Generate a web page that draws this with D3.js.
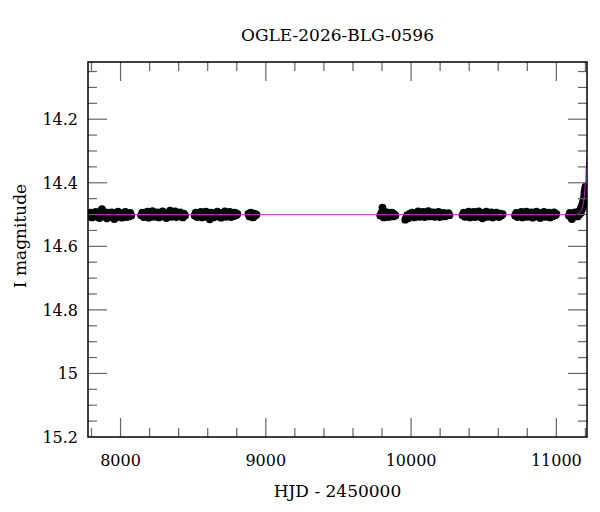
<!DOCTYPE html>
<html>
<head>
<meta charset="utf-8">
<script src="https://cdn.jsdelivr.net/npm/d3@7"></script>
<style>
  body { margin: 0; background: #fff; }
  text { font-family: "DejaVu Serif", "Liberation Serif", serif; fill: #000; }
</style>
</head>
<body>
<div id="chart"></div>
<script>
// light curve data (HJD - 2450000, I mag)
var season1 = [[7786,14.503],[7795,14.494],[7803,14.509],[7812,14.498],[7820,14.505],[7829,14.492],[7838,14.507],[7846,14.500],[7855,14.511],[7863,14.495],[7872,14.483],[7880,14.489],[7889,14.506],[7897,14.498],[7906,14.512],[7914,14.494],[7923,14.501],[7931,14.508],[7940,14.493],[7948,14.503],[7957,14.514],[7965,14.497],[7974,14.505],[7982,14.491],[7991,14.507],[7999,14.499],[8008,14.510],[8016,14.496],[8025,14.503],[8033,14.492],[8042,14.508],[8050,14.500],[8059,14.506],[8067,14.495],[8074,14.503]];
var season2 = [[8142,14.502],[8150,14.494],[8159,14.508],[8168,14.497],[8176,14.505],[8185,14.491],[8194,14.510],[8202,14.499],[8211,14.504],[8220,14.489],[8228,14.507],[8237,14.496],[8246,14.502],[8254,14.493],[8263,14.509],[8272,14.498],[8280,14.505],[8289,14.490],[8298,14.506],[8306,14.499],[8315,14.511],[8324,14.495],[8332,14.503],[8341,14.488],[8350,14.507],[8358,14.497],[8367,14.503],[8376,14.490],[8384,14.508],[8393,14.499],[8402,14.505],[8410,14.493],[8419,14.501],[8428,14.509],[8436,14.497],[8444,14.503]];
var season3 = [[8510,14.503],[8518,14.494],[8527,14.508],[8536,14.497],[8544,14.505],[8553,14.492],[8562,14.509],[8570,14.499],[8579,14.504],[8588,14.491],[8596,14.507],[8605,14.498],[8614,14.515],[8622,14.494],[8631,14.502],[8640,14.509],[8648,14.496],[8657,14.503],[8666,14.491],[8674,14.506],[8683,14.498],[8692,14.510],[8700,14.495],[8709,14.503],[8718,14.490],[8726,14.507],[8735,14.497],[8744,14.504],[8752,14.492],[8761,14.508],[8770,14.499],[8778,14.505],[8787,14.494],[8796,14.502],[8804,14.498]];
var season4 = [[8880,14.498],[8888,14.506],[8896,14.494],[8904,14.503],[8912,14.509],[8920,14.497],[8928,14.503],[8936,14.500]];
var season5 = [[9788,14.503],[9796,14.495],[9803,14.478],[9806,14.487],[9812,14.509],[9820,14.499],[9828,14.505],[9836,14.493],[9844,14.508],[9852,14.498],[9860,14.504],[9868,14.494],[9876,14.506],[9884,14.499],[9892,14.503]];
var season6 = [[9960,14.516],[9966,14.511],[9972,14.503],[9980,14.512],[9989,14.498],[9997,14.506],[10006,14.494],[10015,14.503],[10023,14.509],[10032,14.496],[10041,14.502],[10049,14.490],[10058,14.507],[10067,14.499],[10075,14.504],[10084,14.492],[10093,14.508],[10101,14.497],[10110,14.503],[10119,14.489],[10127,14.506],[10136,14.498],[10145,14.505],[10153,14.493],[10162,14.507],[10171,14.499],[10179,14.504],[10188,14.492],[10197,14.508],[10205,14.497],[10214,14.503],[10223,14.495],[10231,14.506],[10240,14.499],[10248,14.503],[10257,14.496],[10264,14.502]];
var season7 = [[10354,14.502],[10362,14.494],[10371,14.507],[10380,14.498],[10388,14.504],[10397,14.491],[10406,14.509],[10414,14.498],[10423,14.505],[10432,14.492],[10440,14.508],[10449,14.497],[10458,14.503],[10466,14.490],[10475,14.507],[10484,14.499],[10492,14.512],[10501,14.495],[10510,14.503],[10518,14.491],[10527,14.507],[10536,14.498],[10544,14.504],[10553,14.493],[10562,14.509],[10570,14.499],[10579,14.505],[10588,14.494],[10596,14.502],[10605,14.508],[10614,14.497],[10622,14.503],[10630,14.499]];
var season8 = [[10716,14.503],[10724,14.495],[10733,14.508],[10742,14.498],[10750,14.505],[10759,14.492],[10768,14.509],[10776,14.499],[10785,14.504],[10794,14.491],[10802,14.507],[10811,14.498],[10820,14.503],[10828,14.493],[10837,14.510],[10846,14.497],[10854,14.504],[10863,14.491],[10872,14.506],[10880,14.499],[10889,14.511],[10898,14.495],[10906,14.503],[10915,14.492],[10924,14.507],[10932,14.498],[10941,14.504],[10950,14.494],[10958,14.509],[10967,14.499],[10976,14.505],[10984,14.493],[10993,14.502],[11000,14.498]];
var season9 = [[11086,14.503],[11093,14.495],[11100,14.508],[11107,14.514],[11114,14.499],[11121,14.506],[11128,14.493],[11135,14.503],[11141,14.497],[11147,14.506],[11153,14.492],[11158,14.500],[11163,14.486],[11168,14.495],[11172,14.476],[11176,14.484],[11180,14.466],[11183,14.476],[11186,14.455],[11189,14.466],[11191,14.443],[11193,14.430],[11195,14.452],[11197,14.421],[11199,14.438],[11201,14.412],[11203,14.425],[11205,14.415]];
var seasons = [season1, season2, season3, season4, season5, season6, season7, season8, season9];

// point-lens model curve
var model = [[7776,14.5],[11120,14.5],[11140,14.499],[11155,14.496],[11168,14.49],[11178,14.48],[11186,14.465],[11192,14.445],[11197,14.42],[11201,14.39],[11205,14.36],[11208,14.335],[11209.5,14.322]];

var title = "OGLE-2026-BLG-0596";
var xLabel = "HJD - 2450000";
var yLabel = "I magnitude";
var xMajor = [8000, 9000, 10000, 11000];
var yMajor = [14.2, 14.4, 14.6, 14.8, 15, 15.2];

var margin = {top: 62, right: 13, bottom: 75, left: 88};
var W = 600, H = 512;
var width = W - margin.left - margin.right;
var height = H - margin.top - margin.bottom;

var svg = d3.select("#chart")
  .append("svg")
    .attr("width", W)
    .attr("height", H);

var g = svg.append("g")
    .attr("transform", "translate(" + margin.left + "," + margin.top + ")");

var x = d3.scaleLinear().domain([7776, 11211]).range([0, width]);
var y = d3.scaleLinear().domain([14.02, 15.2]).range([0, height]);

g.append("clipPath").attr("id", "plotclip")
  .append("rect").attr("width", width).attr("height", height);

// data points
var pts = g.append("g").attr("clip-path", "url(#plotclip)");
pts.selectAll("circle")
  .data(seasons.flat())
  .enter()
  .append("circle")
    .attr("cx", function (d) { return x(d[0]); })
    .attr("cy", function (d) { return y(d[1]); })
    .attr("r", 3.9)
    .style("fill", "#000");

// model on top
var line = d3.line()
  .x(function (d) { return x(d[0]); })
  .y(function (d) { return y(d[1]); });

pts.append("path")
  .datum(model)
  .attr("d", line)
  .attr("fill", "none")
  .attr("stroke", "#e020e0")
  .attr("stroke-width", 0.9);

// ticks on all four sides, pointing inwards
var xMinor = d3.range(7800, 11201, 200);
var yMinor = d3.range(14.05, 15.2, 0.05);
var majLen = 19, minLen = 9;
var ticks = g.append("g").attr("stroke", "#666").attr("stroke-width", 1.2);

xMinor.forEach(function (v) {
  var len = (v % 1000 === 0) ? majLen : minLen;
  ticks.append("line").attr("x1", x(v)).attr("x2", x(v)).attr("y1", height).attr("y2", height - len);
  ticks.append("line").attr("x1", x(v)).attr("x2", x(v)).attr("y1", 0).attr("y2", len);
});
yMinor.forEach(function (v) {
  var isMaj = yMajor.some(function (m) { return Math.abs(m - v) < 1e-6; });
  var len = isMaj ? majLen : minLen;
  ticks.append("line").attr("y1", y(v)).attr("y2", y(v)).attr("x1", 0).attr("x2", len);
  ticks.append("line").attr("y1", y(v)).attr("y2", y(v)).attr("x1", width).attr("x2", width - len);
});

// frame
g.append("rect")
  .attr("width", width)
  .attr("height", height)
  .attr("fill", "none")
  .attr("stroke", "#000")
  .attr("stroke-width", 1.5);

// tick labels
g.selectAll(".xlab")
  .data(xMajor)
  .enter()
  .append("text")
    .attr("x", function (d) { return x(d); })
    .attr("y", height + 29)
    .attr("text-anchor", "middle")
    .style("font-size", "16px")
    .text(function (d) { return d; });

g.selectAll(".ylab")
  .data(yMajor)
  .enter()
  .append("text")
    .attr("x", -10)
    .attr("y", function (d) { return y(d); })
    .attr("dy", "0.36em")
    .attr("text-anchor", "end")
    .style("font-size", "16px")
    .text(function (d) { return d; });

// title and axis labels
svg.append("text")
  .attr("x", margin.left + width / 2)
  .attr("y", 41)
  .attr("text-anchor", "middle")
  .style("font-size", "17px")
  .text(title);

svg.append("text")
  .attr("x", margin.left + width / 2)
  .attr("y", 497)
  .attr("text-anchor", "middle")
  .style("font-size", "17px")
  .text(xLabel);

svg.append("text")
  .attr("transform", "translate(26,236) rotate(-90)")
  .attr("text-anchor", "middle")
  .style("font-size", "17px")
  .text(yLabel);
</script>
</body>
</html>
